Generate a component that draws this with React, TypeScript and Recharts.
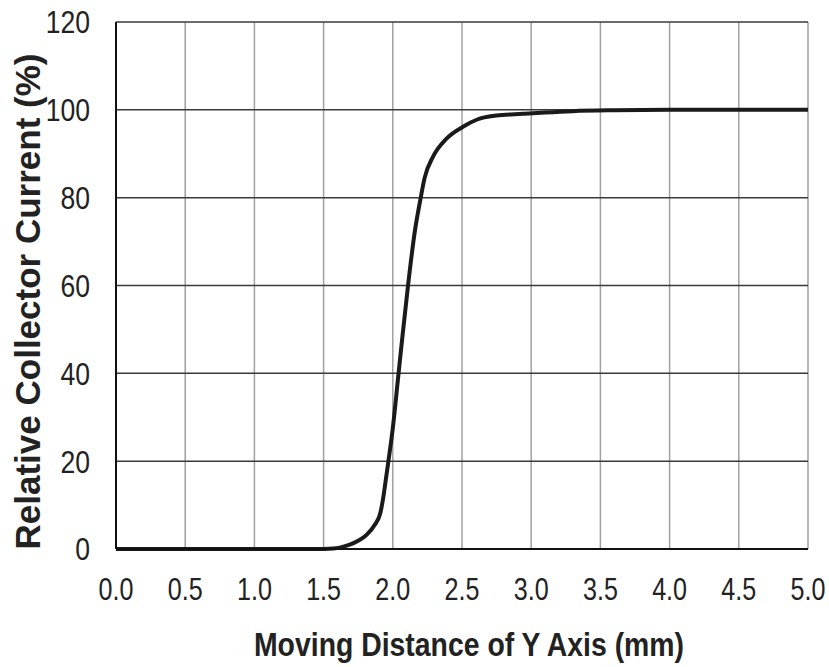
import { CartesianGrid, Label, Line, LineChart, XAxis, YAxis } from "recharts";

// Relative collector current vs. Y-axis displacement.
const distance = [
  0, 0.5, 1.0, 1.5, 1.57, 1.65, 1.72, 1.81, 1.87, 1.91, 1.93, 1.955, 1.975, 2.0, 2.04,
  2.07, 2.11, 2.16, 2.2, 2.23, 2.29, 2.39, 2.51, 2.61, 2.75, 2.94, 3.1, 3.3, 3.6, 4.0,
  4.5, 5.0,
];
const current = [
  0, 0, 0, 0, 0.1, 0.6, 1.4, 3.2, 5.5, 8.2, 11.5, 17, 21.5, 27.5, 39.5, 48.5, 60, 72.5,
  79.7, 84.5, 89.3, 93.5, 96.2, 97.8, 98.7, 99.1, 99.4, 99.7, 99.9, 100, 100, 100,
];
const xTicks = [0, 0.5, 1, 1.5, 2, 2.5, 3, 3.5, 4, 4.5, 5];
const yTicks = [0, 20, 40, 60, 80, 100, 120];

const data = distance.map((d, i) => ({ d, i: current[i] }));

const FONT = "'Liberation Sans', Arial, Helvetica, sans-serif";
const INK = "#222";

// the chart fills the whole window: drop the body margin and any scrollbars
if (typeof document !== "undefined") {
  document.body.style.margin = "0";
  document.documentElement.style.overflow = "hidden";
}

// the scan squeezes horizontal text, so ticks and the x title are drawn a little condensed
function XTick({ x, y, payload }: any) {
  return (
    <g transform={`translate(${x},${y})`}>
      <text transform="scale(0.81,1)" textAnchor="middle" dy="0.71em" fontSize={31} fontFamily={FONT} fill={INK}>
        {Number(payload.value).toFixed(1)}
      </text>
    </g>
  );
}

function YTick({ x, y, payload }: any) {
  return (
    <g transform={`translate(${x},${y})`}>
      <text transform="scale(0.83,1)" textAnchor="end" dy="0.355em" fontSize={32} fontFamily={FONT} fill={INK}>
        {payload.value}
      </text>
    </g>
  );
}

function XTitle({ viewBox }: any) {
  const cx = viewBox.x + viewBox.width / 2 + 7;
  const by = viewBox.y + viewBox.height - 11;
  return (
    <g transform={`translate(${cx},${by})`}>
      <text transform="scale(0.835,1)" textAnchor="middle" fontSize={34} fontWeight="bold" fontFamily={FONT} fill={INK}>
        Moving Distance of Y Axis (mm)
      </text>
    </g>
  );
}

function YTitle({ viewBox }: any) {
  const cx = viewBox.x + 20;
  const cy = viewBox.y + viewBox.height / 2 + 16;
  return (
    <text
      x={cx}
      y={cy}
      transform={`rotate(-90 ${cx} ${cy})`}
      textAnchor="middle"
      dy="0.355em"
      fontSize={35}
      fontWeight="bold"
      fontFamily={FONT}
      fill={INK}
    >
      Relative Collector Current (%)
    </text>
  );
}

export default function App() {
  return (
    <LineChart
      width={829}
      height={667}
      data={data}
      margin={{ top: 22, right: 21, bottom: 0, left: 8 }}
    >
      <CartesianGrid horizontal={false} stroke="#a0a0a0" strokeWidth={1.5} />
      <CartesianGrid vertical={false} stroke="#3a3a3a" strokeWidth={1.5} />
      <XAxis
        dataKey="d"
        type="number"
        domain={[0, 5]}
        ticks={xTicks}
        height={118}
        tickSize={0}
        tickMargin={29}
        axisLine={{ stroke: "#111", strokeWidth: 2 }}
        tick={<XTick />}
      >
        <Label content={XTitle} />
      </XAxis>
      <YAxis
        type="number"
        domain={[0, 120]}
        ticks={yTicks}
        width={108}
        tickSize={0}
        tickMargin={26}
        axisLine={{ stroke: "#111", strokeWidth: 2 }}
        tick={<YTick />}
      >
        <Label content={YTitle} />
      </YAxis>
      <Line
        type="monotone"
        dataKey="i"
        stroke="#1a1a1a"
        strokeWidth={4}
        dot={false}
        isAnimationActive={false}
      />
    </LineChart>
  );
}
